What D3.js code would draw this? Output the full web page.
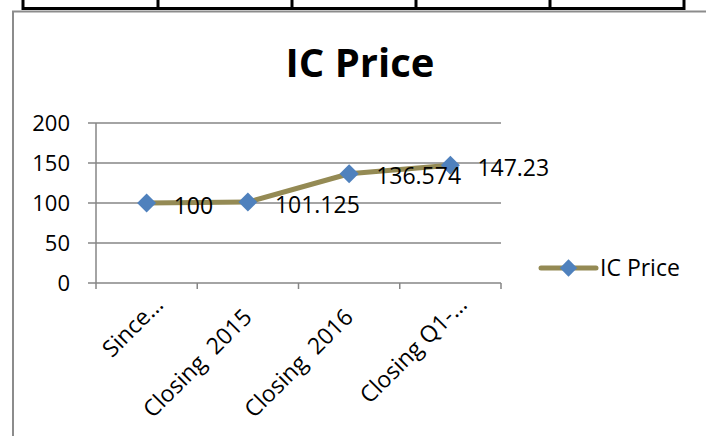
<!DOCTYPE html>
<html>
<head>
<meta charset="utf-8">
<script src="https://cdn.jsdelivr.net/npm/d3@7"></script>
<style>
  body { margin: 0; background: #fff; }
  text { font-family: "Open Sans", "DejaVu Sans", sans-serif; }
</style>
</head>
<body>
<div id="main"></div>
<script>
// chart data
var categories = ["Since…", "Closing  2015   ", "Closing  2016   ", "Closing Q1-…"];
var prices = [100, 101.125, 136.574, 147.23];
var priceLabels = ["100", "101.125", "136.574", "147.23"];
var yTicks = [0, 50, 100, 150, 200];
var seriesName = "IC Price";

var width = 706, height = 436;
var plot = {left: 96, right: 501, top: 123, bottom: 283};

var lineColor = "#948A54",
    markerColor = "#4F81BD",
    gridColor = "#868686";

var svg = d3.select("#main")
  .append("svg")
    .attr("width", width)
    .attr("height", height);

// bit of the table above the chart
var tableCols = [23, 158, 292, 416, 550, 684];
svg.append("line")
  .attr("x1", 22).attr("x2", 685)
  .attr("y1", 8.5).attr("y2", 8.5)
  .style("stroke", "#000").style("stroke-width", 3);
svg.selectAll(".tcol")
  .data(tableCols)
  .enter()
  .append("line")
    .attr("x1", function(d) { return d; })
    .attr("x2", function(d) { return d; })
    .attr("y1", 0).attr("y2", 10)
    .style("stroke", "#000").style("stroke-width", 3);

// chart frame
svg.append("path")
  .attr("d", "M13,436 L13,11.5 L706,11.5")
  .style("fill", "none")
  .style("stroke", "#8c8c8c")
  .style("stroke-width", 2);

// title
svg.append("text")
  .attr("x", 360)
  .attr("y", 77)
  .style("text-anchor", "middle")
  .style("font-weight", "bold")
  .style("font-size", "40px")
  .text("IC Price");

// scales
var xScale = d3.scaleBand()
  .domain(categories)
  .range([plot.left, plot.right]);

var yScale = d3.scaleLinear()
  .domain([0, 200])
  .range([plot.bottom, plot.top]);

// gridlines + y axis ticks
svg.selectAll(".grid")
  .data(yTicks)
  .enter()
  .append("line")
    .attr("x1", plot.left - 8)
    .attr("x2", plot.right)
    .attr("y1", function(d) { return yScale(d); })
    .attr("y2", function(d) { return yScale(d); })
    .style("stroke", gridColor)
    .style("stroke-width", 1.5);

svg.append("line")
  .attr("x1", plot.left).attr("x2", plot.left)
  .attr("y1", plot.top).attr("y2", plot.bottom)
  .style("stroke", gridColor)
  .style("stroke-width", 1.5);

svg.selectAll(".ylab")
  .data(yTicks)
  .enter()
  .append("text")
    .attr("x", plot.left - 26)
    .attr("y", function(d) { return yScale(d); })
    .attr("dy", "0.36em")
    .style("text-anchor", "end")
    .style("font-size", "22px")
    .text(function(d) { return d; });

// x axis ticks
var xEdges = categories.map(function(c) { return xScale(c); }).concat([plot.right]);
svg.selectAll(".xtick")
  .data(xEdges)
  .enter()
  .append("line")
    .attr("x1", function(d) { return d; })
    .attr("x2", function(d) { return d; })
    .attr("y1", plot.bottom)
    .attr("y2", plot.bottom + 6)
    .style("stroke", gridColor)
    .style("stroke-width", 1.5);

// x labels, rotated
svg.selectAll(".xlab")
  .data(categories)
  .enter()
  .append("text")
    .attr("transform", function(d) {
      var cx = xScale(d) + xScale.bandwidth() / 2 + 18;
      return "translate(" + cx + "," + (plot.bottom + 23) + ")rotate(-45)";
    })
    .style("text-anchor", "end")
    .style("white-space", "pre")
    .attr("xml:space", "preserve")
    .style("font-size", "23px")
    .text(function(d) { return d; });

// the line
var line = d3.line()
  .x(function(d, i) { return xScale(categories[i]) + xScale.bandwidth() / 2; })
  .y(function(d) { return yScale(d); });

svg.append("path")
  .datum(prices)
  .attr("d", line)
  .style("fill", "none")
  .style("stroke", lineColor)
  .style("stroke-width", 5)
  .style("stroke-linejoin", "round")
  .style("stroke-linecap", "round");

var diamond = d3.symbol().type(d3.symbolSquare).size(180);

svg.selectAll(".marker")
  .data(prices)
  .enter()
  .append("path")
    .attr("d", diamond)
    .attr("transform", function(d, i) {
      var cx = xScale(categories[i]) + xScale.bandwidth() / 2;
      return "translate(" + cx + "," + yScale(d) + ")rotate(45)";
    })
    .style("fill", markerColor);

// data labels
svg.selectAll(".dlab")
  .data(prices)
  .enter()
  .append("text")
    .attr("x", function(d, i) { return xScale(categories[i]) + xScale.bandwidth() / 2 + 27; })
    .attr("y", function(d) { return yScale(d); })
    .attr("dy", "0.46em")
    .style("font-size", "23px")
    .text(function(d, i) { return priceLabels[i]; });

// legend
var legend = svg.append("g").attr("transform", "translate(541,268)");
legend.append("line")
  .attr("x1", 0).attr("x2", 55)
  .attr("y1", 0).attr("y2", 0)
  .style("stroke", lineColor)
  .style("stroke-width", 5)
  .style("stroke-linecap", "round");
legend.append("path")
  .attr("d", d3.symbol().type(d3.symbolSquare).size(150))
  .attr("transform", "translate(27.5,0)rotate(45)")
  .style("fill", markerColor);
legend.append("text")
  .attr("x", 59)
  .attr("y", 0)
  .attr("dy", "0.36em")
  .style("font-size", "23px")
  .text(seriesName);
</script>
</body>
</html>
